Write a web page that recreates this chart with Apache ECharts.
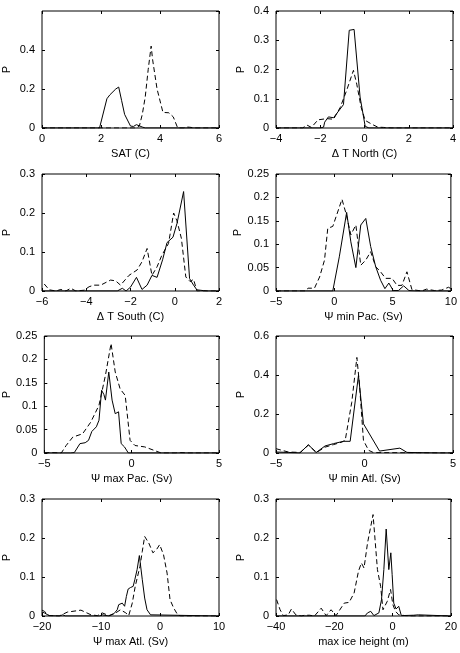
<!DOCTYPE html>
<html>
<head>
<meta charset="utf-8">
<script src="https://cdn.jsdelivr.net/npm/echarts@6/dist/echarts.min.js"></script>
<style>
  html, body { margin: 0; padding: 0; background: #fff; }
  #chart { width: 460px; height: 653px; }
</style>
</head>
<body>
<div id="chart"></div>
<script>
// panel order: left-right, top-bottom
var xTitles = ['SAT (C)', 'Δ T North (C)', 'Δ T South (C)', 'Ψ min Pac. (Sv)',
               'Ψ max Pac. (Sv)', 'Ψ min Atl. (Sv)', 'Ψ max Atl. (Sv)', 'max ice height (m)'];
var xMin = [0, -4, -6, -5, -5, -5, -20, -40];
var xMax = [6, 4, 2, 10, 5, 5, 10, 20];
var xStep = [2, 2, 2, 5, 5, 5, 10, 20];
var yMax = [0.6, 0.4, 0.3, 0.25, 0.25, 0.6, 0.3, 0.3];
var yStep = [0.2, 0.1, 0.1, 0.05, 0.05, 0.2, 0.1, 0.1];

// solid curves
var satSolid = [[0,0],[1.95,0],[2.2,0.15],[2.3,0.17],[2.5,0.2],[2.6,0.21],[2.7,0.14],[2.8,0.07],[3.0,0.01],[3.1,0.008],[3.2,0.017],[3.4,0.005],[3.5,0],[6,0]];
var northSolid = [[-4,0],[-2,0],[-1.85,0.003],[-1.8,0.02],[-1.63,0.038],[-1.4,0.035],[-0.95,0.08],[-0.69,0.334],[-0.47,0.337],[-0.2,0.106],[0.03,0.006],[0.2,0],[4,0]];
var southSolid = [[-6,0],[-2.6,0],[-2.37,0.007],[-2.2,0],[-2.0,0.01],[-1.73,0.035],[-1.48,0.004],[-1.25,0.015],[-1.03,0.04],[-0.8,0.035],[-0.55,0.08],[-0.35,0.124],[-0.08,0.138],[0.1,0.173],[0.4,0.255],[0.67,0.032],[0.85,0.015],[1.0,0.003],[1.3,0.001],[1.5,0],[2,0]];
var minPacSolid = [[-5,0],[-0.13,0],[0.43,0.073],[1.06,0.168],[1.42,0.105],[1.85,0.05],[2.27,0.141],[2.7,0.155],[3.12,0.095],[3.55,0.052],[3.97,0.023],[4.34,0.005],[4.68,0.017],[5.05,0.001],[5.5,0.001],[5.95,0.011],[6.4,0.001],[7,0],[10,0]];
var maxPacSolid = [[-5,0],[-3.5,0],[-3.28,0.001],[-2.96,0.02],[-2.66,0.022],[-2.47,0.027],[-2.28,0.046],[-2.02,0.056],[-1.87,0.07],[-1.72,0.134],[-1.59,0.125],[-1.5,0.113],[-1.31,0.173],[-1.12,0.113],[-0.94,0.084],[-0.75,0.088],[-0.6,0.02],[-0.41,0.013],[-0.19,0],[5,0]];
var minAtlSolid = [[-5,0.005],[-4.3,0.003],[-3.64,0],[-3.17,0.043],[-2.74,0.002],[-2.23,0.036],[-1.75,0.048],[-1.19,0.06],[-0.81,0.06],[-0.34,0.398],[-0.06,0.15],[0.85,0.01],[2.0,0.025],[2.4,0.003],[3,0.002],[4.3,0],[5,0]];
var maxAtlSolid = [[-20,0.01],[-19.6,0.008],[-18.8,0.001],[-17,0],[-16.5,0.003],[-16,0],[-10.2,0],[-9.8,0.003],[-8.65,0],[-7.8,0.006],[-7.25,0.016],[-7.0,0.029],[-6.4,0.033],[-6.0,0.025],[-5.7,0.05],[-5.4,0.069],[-5.0,0.073],[-4.55,0.076],[-4.27,0.093],[-3.88,0.119],[-3.5,0.155],[-3.0,0.093],[-2.6,0.046],[-2.2,0.016],[-1.6,0.003],[-1.35,0],[10,0]];
var iceSolid = [[-40,0],[-9.5,0],[-8.6,0.008],[-7.5,0.012],[-6.4,0.001],[-4.7,0.008],[-3.8,0.042],[-3.0,0.119],[-2.2,0.223],[-1.3,0.119],[-0.6,0.162],[-0.15,0.106],[0.4,0.033],[1.2,0.018],[2.1,0.025],[3.0,0.001],[7.2,0.002],[8.9,0.003],[9.5,0],[20,0]];

// dashed curves
var satDashed = [[0,0],[3.2,0],[3.3,0.01],[3.4,0.07],[3.5,0.16],[3.6,0.3],[3.7,0.42],[3.75,0.35],[3.9,0.2],[4.1,0.08],[4.3,0.078],[4.45,0.057],[4.6,0],[4.8,0],[4.9,0.005],[5.0,0.004],[5.2,0],[6,0]];
var northDashed = [[-4,0],[-2.8,0],[-2.6,0.01],[-2.4,0.002],[-2.1,0.028],[-1.7,0.032],[-1.4,0.03],[-1.1,0.07],[-0.8,0.13],[-0.5,0.197],[-0.35,0.15],[-0.15,0.07],[0.03,0.026],[0.33,0.013],[0.6,0.003],[0.86,0.002],[1.2,0],[4,0]];
var southDashed = [[-5.9,0.018],[-5.67,0.003],[-5.37,0],[-5.15,0.004],[-4.92,0],[-4.7,0.007],[-4.47,0],[-4.1,0.002],[-3.87,0.011],[-3.65,0.015],[-3.35,0.015],[-2.9,0.028],[-2.67,0.026],[-2.45,0.015],[-2.07,0.04],[-1.7,0.054],[-1.48,0.075],[-1.25,0.109],[-1.03,0.04],[-0.8,0.062],[-0.58,0.092],[-0.28,0.122],[-0.05,0.2],[0.1,0.18],[0.3,0.135],[0.5,0.036],[0.7,0.024],[0.85,0.03],[1.0,0],[2,0]];
var minPacDashed = [[-5,0],[-2.5,0],[-2.25,0.006],[-1.7,0.006],[-1.26,0.03],[-0.84,0.066],[-0.56,0.134],[-0.13,0.138],[0.66,0.196],[1.0,0.166],[1.42,0.12],[1.85,0.141],[2.27,0.055],[2.7,0.066],[3.12,0.084],[3.55,0.052],[3.97,0.041],[4.4,0.027],[4.96,0.027],[5.38,0.012],[5.8,0.012],[6.23,0.041],[6.66,0.003],[7.5,0],[7.9,0.004],[8.6,0.001],[9.2,0.002],[9.8,0.008],[10,0.005]];
var maxPacDashed = [[-5,0],[-4.68,0.001],[-4.03,0],[-3.75,0.016],[-3.37,0.034],[-2.81,0.041],[-2.34,0.066],[-1.87,0.102],[-1.5,0.166],[-1.18,0.234],[-0.94,0.173],[-0.66,0.137],[-0.37,0.123],[-0.09,0.027],[0.19,0.016],[0.75,0.013],[1.4,0.004],[1.69,0],[2.5,0],[2.8,0.001],[3.2,0],[5,0]];
var minAtlDashed = [[-5,0.022],[-4.3,0.005],[-3.64,0.003],[-3.17,0.04],[-2.7,0.003],[-2.23,0.03],[-1.75,0.043],[-1.28,0.056],[-1.09,0.065],[-0.72,0.26],[-0.43,0.49],[-0.28,0.347],[-0.06,0.065],[0.23,0.014],[0.51,0.002],[5,0]];
var maxAtlDashed = [[-20,0.015],[-19.6,0.012],[-18.8,0.001],[-17.1,0],[-15.7,0.01],[-15.4,0.015],[-13.4,0.015],[-11.7,0.003],[-10.6,0.001],[-9.8,0.008],[-8.65,0.001],[-7.5,0.008],[-6.7,0.016],[-5.8,0.008],[-5.3,0.001],[-4.7,0.033],[-4.2,0.076],[-3.4,0.127],[-3.0,0.166],[-2.6,0.204],[-1.9,0.187],[-1.2,0.162],[-0.6,0.17],[-0.06,0.183],[0.6,0.157],[1.2,0.11],[1.7,0.042],[2.3,0.021],[3.0,0.003],[3.5,0],[10,0]];
var iceDashed = [[-39.8,0.042],[-38.6,0.016],[-37.5,0.001],[-35.8,0.003],[-34.7,0.018],[-33.2,0.003],[-31.3,0],[-30.2,0.002],[-28.5,0.002],[-26.8,0],[-24.5,0.02],[-22.8,0.001],[-21.1,0.016],[-19.4,0.001],[-16.6,0.033],[-14.9,0.035],[-13.2,0.059],[-11.7,0.115],[-10.7,0.136],[-9.8,0.123],[-8.6,0.187],[-6.7,0.26],[-5.2,0.119],[-4.1,0.076],[-3.3,0.016],[-1.8,0.038],[-0.7,0.068],[0.1,0.029],[1.0,0.012],[2.1,0.003],[4.4,0.001],[6,0],[20,0]];

var solids = [satSolid, northSolid, southSolid, minPacSolid, maxPacSolid, minAtlSolid, maxAtlSolid, iceSolid];
var dashes = [satDashed, northDashed, southDashed, minPacDashed, maxPacDashed, minAtlDashed, maxAtlDashed, iceDashed];

var chart = echarts.init(document.getElementById('chart'));
var font = 'Liberation Sans';
var tops = [11, 174, 336, 499];
var grids = [], xAxes = [], yAxes = [], series = [];

function fmt(v) {
    var s = String(+v.toFixed(3));
    return s.replace('-', '\u2212');
}

for (var i = 0; i < 8; i++) {
    var col = i % 2, row = Math.floor(i / 2);
    grids.push({
        left: col ? 276 : 41, top: tops[row], width: col ? 177 : 178, height: 117,
        show: true, borderColor: '#000', borderWidth: 1, backgroundColor: 'transparent'
    });
    var tick = { show: true, inside: true, length: 3, lineStyle: { color: '#000', width: 1 } };
    var noLine = { show: false, onZero: false };
    xAxes.push({
        type: 'value', gridIndex: i, min: xMin[i], max: xMax[i], interval: xStep[i],
        position: 'bottom', name: xTitles[i], nameLocation: 'middle', nameGap: 20,
        nameTextStyle: { fontFamily: font, fontSize: 11, color: '#000' },
        axisLine: noLine, axisTick: tick, splitLine: { show: false },
        axisLabel: { fontFamily: font, fontSize: 11, color: '#000', margin: 5, formatter: fmt }
    });
    xAxes.push({
        type: 'value', gridIndex: i, min: xMin[i], max: xMax[i], interval: xStep[i],
        position: 'top', axisLine: noLine, axisTick: tick,
        axisLabel: { show: false }, splitLine: { show: false }
    });
    yAxes.push({
        type: 'value', gridIndex: i, min: 0, max: yMax[i], interval: yStep[i],
        position: 'left', name: 'P', nameLocation: 'middle', nameGap: 30, nameRotate: 90,
        nameTextStyle: { fontFamily: font, fontSize: 11, color: '#000' },
        axisLine: noLine, axisTick: tick, splitLine: { show: false },
        axisLabel: { fontFamily: font, fontSize: 11, color: '#000', margin: 7, formatter: fmt,
                     showMaxLabel: i !== 0 }
    });
    yAxes.push({
        type: 'value', gridIndex: i, min: 0, max: yMax[i], interval: yStep[i],
        position: 'right', axisLine: noLine, axisTick: tick,
        axisLabel: { show: false }, splitLine: { show: false }
    });
    series.push({
        type: 'line', xAxisIndex: 2 * i, yAxisIndex: 2 * i, data: solids[i],
        showSymbol: false, symbol: 'none', silent: true,
        lineStyle: { color: '#000', width: 1 }
    });
    series.push({
        type: 'line', xAxisIndex: 2 * i, yAxisIndex: 2 * i, data: dashes[i],
        showSymbol: false, symbol: 'none', silent: true,
        lineStyle: { color: '#000', width: 1, type: [5, 3] }
    });
}

chart.setOption({
    animation: false,
    backgroundColor: '#fff',
    grid: grids,
    xAxis: xAxes,
    yAxis: yAxes,
    series: series
});
</script>
</body>
</html>
